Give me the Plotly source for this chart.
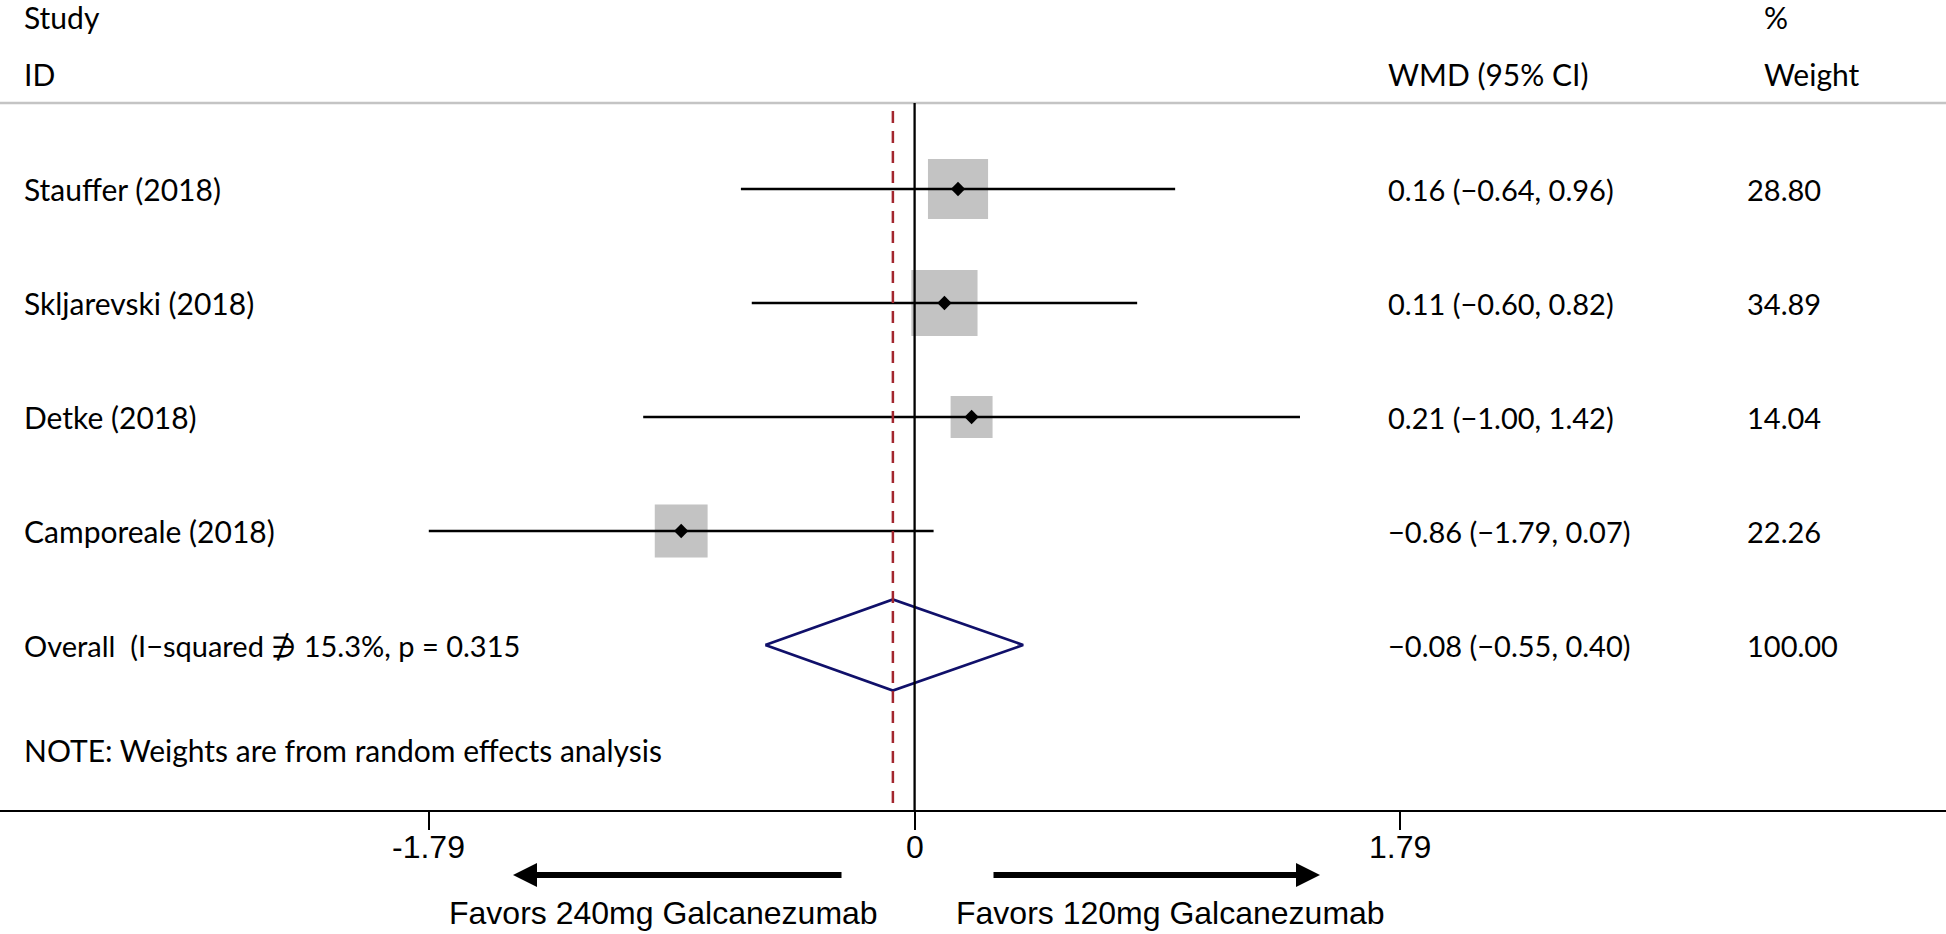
import plotly.graph_objects as go
import numpy as np

# ---------------- data ----------------
studies = ["Stauffer (2018)", "Skljarevski (2018)", "Detke (2018)", "Camporeale (2018)"]
wmd = [0.16, 0.11, 0.21, -0.86]
ci_low = [-0.64, -0.60, -1.00, -1.79]
ci_high = [0.96, 0.82, 1.42, 0.07]
weights = [28.80, 34.89, 14.04, 22.26]

overall_label = "Overall  (I\u2212squared \u220c 15.3%, p = 0.315"
overall_wmd = -0.08
overall_low = -0.55
overall_high = 0.40
overall_weight = 100.00

note = "NOTE: Weights are from random effects analysis"
tick_vals = [-1.79, 0, 1.79]
tick_text = ["-1.79", "0", "1.79"]
favors_left = "Favors 240mg Galcanezumab"
favors_right = "Favors 120mg Galcanezumab"
header_study = ["Study", "ID"]
header_wmd = "WMD (95% CI)"
header_weight = ["%", "Weight"]

# ---------------- layout constants ----------------
W, H = 1946, 934
X0_PX = 914.6          # pixel of x = 0
PX_PER_X = 271.4       # pixels per unit
ROW0_PX = 189.0        # pixel of first row
ROW_STEP = 114.0       # pixels per row
SQ_K = 11.2            # square side (px) per sqrt(weight)

xr = [-X0_PX / PX_PER_X, (W - X0_PX) / PX_PER_X]
yr = [(H - ROW0_PX) / ROW_STEP, -ROW0_PX / ROW_STEP]


def ypx(px):
    return (px - ROW0_PX) / ROW_STEP


def xpx(px):
    return (px - X0_PX) / PX_PER_X


TEXT_FONT = dict(family="Lato, Open Sans, sans-serif", size=30, color="black")
NUM_FONT = dict(family="Lato, Open Sans, sans-serif", size=29, color="black")
AXIS_FONT = dict(family="Liberation Sans, Arial, sans-serif", size=32, color="black")

rows = list(range(len(studies)))
overall_row = len(studies)

fig = go.Figure()

# weight squares
fig.add_trace(go.Scatter(
    x=wmd, y=rows, mode="markers",
    marker=dict(symbol="square", size=[SQ_K * np.sqrt(w) for w in weights],
                color="#a9a9a9", line=dict(width=0)),
    hoverinfo="skip", showlegend=False))

# confidence intervals + point estimates
fig.add_trace(go.Scatter(
    x=wmd, y=rows, mode="markers",
    marker=dict(symbol="diamond", size=11, color="black", line=dict(width=0)),
    error_x=dict(type="data", symmetric=False,
                 array=[h - e for h, e in zip(ci_high, wmd)],
                 arrayminus=[e - l for e, l in zip(wmd, ci_low)],
                 color="black", thickness=2.3, width=0),
    hoverinfo="skip", showlegend=False))

# overall diamond
DIAM_HALF = 45.5 / ROW_STEP
fig.add_trace(go.Scatter(
    x=[overall_low, overall_wmd, overall_high, overall_wmd, overall_low],
    y=[overall_row, overall_row - DIAM_HALF, overall_row, overall_row + DIAM_HALF, overall_row],
    mode="lines", line=dict(color="#10106a", width=2.6),
    hoverinfo="skip", showlegend=False))

shapes = []
# header separator
shapes.append(dict(type="line", xref="paper", yref="y", x0=0, x1=1,
                   y0=ypx(103), y1=ypx(103), line=dict(color="#c4c4c4", width=2.5)))
# null line
shapes.append(dict(type="line", xref="x", yref="y", x0=0, x1=0,
                   y0=ypx(103), y1=ypx(811), line=dict(color="black", width=2.3)))
# overall effect dashed line
shapes.append(dict(type="line", xref="x", yref="y", x0=overall_wmd, x1=overall_wmd,
                   y0=ypx(111), y1=ypx(811),
                   line=dict(color="#a3262e", width=2.5, dash="12px,8px")))

annotations = []


def txt(x, y, s, anchor="left", font=TEXT_FONT, xref="paper"):
    annotations.append(dict(x=x, y=y, xref=xref, yref="y", text=s, showarrow=False,
                            xanchor=anchor, yanchor="middle", font=font))


def fmt(v):
    return f"{v:.2f}".replace("-", "\u2212")


LEFT_X = 22 / W
WMD_X = 1386 / W
WT_HDR_X = 1762 / W
WT_X = 1745 / W

txt(LEFT_X, ypx(17), header_study[0])
txt(LEFT_X, ypx(74), header_study[1])
txt(WMD_X, ypx(74), header_wmd)
txt(WT_HDR_X, ypx(17), header_weight[0])
txt(WT_HDR_X, ypx(74), header_weight[1])

for i, s in enumerate(studies):
    txt(LEFT_X, i, s)
    txt(WMD_X, i, f"{fmt(wmd[i])} ({fmt(ci_low[i])}, {fmt(ci_high[i])})", font=NUM_FONT)
    txt(WT_X, i, f"{weights[i]:.2f}", font=NUM_FONT)

txt(LEFT_X, overall_row, overall_label, font=NUM_FONT)
txt(WMD_X, overall_row, f"{fmt(overall_wmd)} ({fmt(overall_low)}, {fmt(overall_high)})", font=NUM_FONT)
txt(WT_X, overall_row, f"{overall_weight:.2f}", font=NUM_FONT)
txt(LEFT_X, ypx(750), note)

# axis tick labels (placed as text right under the ticks)
for v, t in zip(tick_vals, tick_text):
    txt(v, ypx(847), t, anchor="center", font=AXIS_FONT, xref="x")

# direction arrows
ARROW_Y = ypx(875)
for tail, head in [(xpx(843), xpx(513)), (xpx(992), xpx(1320))]:
    annotations.append(dict(x=head, y=ARROW_Y, ax=tail, ay=ARROW_Y, xref="x", yref="y",
                            axref="x", ayref="y", text="", showarrow=True,
                            arrowhead=2, arrowsize=0.8, arrowwidth=6, arrowcolor="black",
                            standoff=0, startstandoff=0))

txt(xpx(663), ypx(913), favors_left, anchor="center", font=AXIS_FONT, xref="x")
txt(xpx(1170), ypx(913), favors_right, anchor="center", font=AXIS_FONT, xref="x")

fig.update_layout(
    width=W, height=H,
    margin=dict(l=0, r=0, t=0, b=0, pad=0),
    paper_bgcolor="white", plot_bgcolor="white",
    shapes=shapes, annotations=annotations,
    xaxis=dict(range=xr, showgrid=False, zeroline=False, showline=True,
               linecolor="black", linewidth=2.3, ticks="outside", ticklen=18,
               tickwidth=2.3, tickcolor="black", tickvals=tick_vals, showticklabels=False,
               anchor="free", position=1 - 811 / H, fixedrange=True),
    yaxis=dict(range=yr, visible=False, fixedrange=True),
)

fig.write_html("out.html", config={"displayModeBar": False},
               post_script="document.body.style.margin='0';document.body.style.overflow='hidden';")
